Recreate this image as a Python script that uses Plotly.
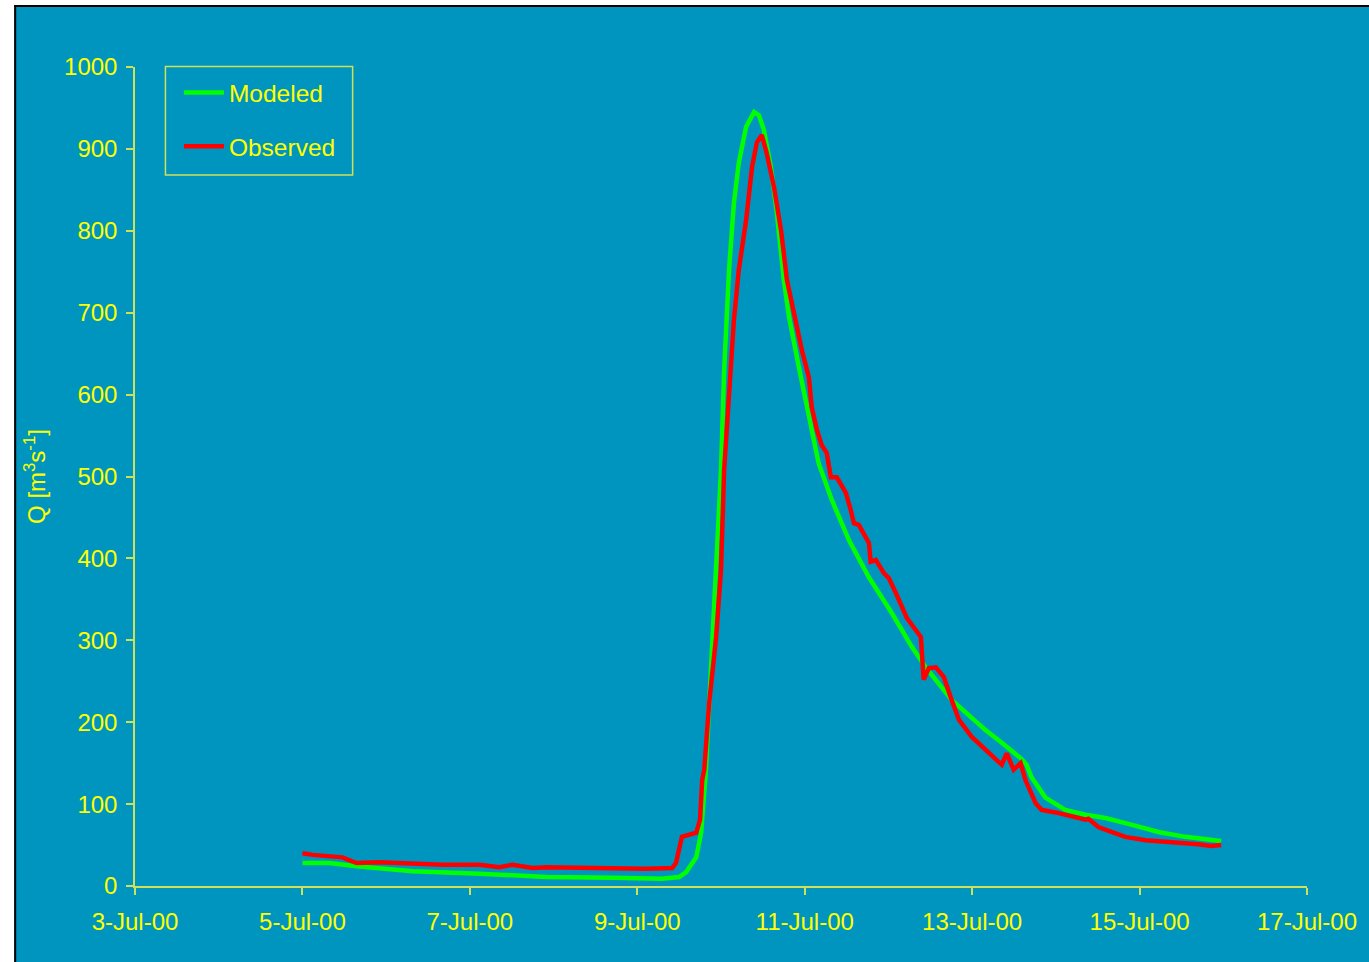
import pandas as pd
import plotly.graph_objects as go

# Hours since 5-Jul-2000 00:00 and discharge (m3/s)
modeled_hours = [0, 7.8, 15.5, 24, 31.6, 50.7, 69.9, 88.8, 103.1, 108, 110, 112.9, 114.3, 115.1, 115.7,
                 117.1, 118.6, 120, 120.9, 122.3, 123.7, 125.1, 127.2, 129.5, 130.9, 132.3, 134.3, 136,
                 138, 139.5, 142.3, 145.2, 148, 151.8, 156.7, 162.4, 169, 174.7, 178.7, 186.2, 195.9,
                 200.5, 206.2, 207.6, 209, 213, 218.7, 224.5, 230.2, 237.6, 245.4, 253.1, 263.4]
modeled_q = [28, 28, 24, 21, 18, 15, 11, 10, 9, 11, 17, 35, 65, 109, 142,
             264, 386, 508, 630, 752, 834, 883, 927, 945, 941, 923, 878, 822,
             740, 695, 634, 573, 516, 471, 422, 377, 333, 292, 267, 227, 190,
             175, 155, 148, 133, 108, 93, 87, 83, 75, 66, 60, 55]

observed_hours = [0, 3, 11.5, 15.5, 22, 36.4, 40.2, 50.7, 56.5, 60.2, 66, 69.9, 79.4, 88.8, 98.5, 106,
                  107.1, 108.8, 112.9, 114, 114.6, 115.2, 116.6, 118.6, 120, 120.9, 122.3, 123.7, 125.1,
                  127.2, 128.9, 130.3, 131.7, 133.1, 135.2, 137.2, 138.9, 139.5, 141.5, 143.2, 145.2,
                  146, 147.5, 148.9, 150.3, 151.5, 153.2, 155.8, 157.2, 158.1, 159.5, 160.9, 162.4,
                  162.9, 164.4, 166.7, 168.1, 170.1, 171.8, 173.3, 174.7, 175.8, 177.3, 178.1, 179.6,
                  181.6, 183.9, 185.8, 188.2, 191.9, 196.8, 200.5, 201.9, 203.9, 205.9, 207.3, 210.2,
                  211.9, 216.8, 224.5, 225.3, 228.2, 231.9, 235.9, 241.7, 249.1, 256.8, 260.5, 263.4]
observed_q = [40, 38, 35, 28, 29, 27, 26, 26, 23, 26, 22, 23, 22, 22, 21, 22,
              28, 60, 65, 81, 129, 142, 223, 304, 386, 508, 590, 691, 752,
              813, 878, 908, 917, 895, 853, 801, 740, 728, 683, 654, 621,
              585, 557, 538, 529, 499, 499, 480, 459, 443, 441, 431, 419,
              396, 398, 382, 376, 358, 341, 327, 319, 313, 304, 252, 266,
              267, 255, 231, 203, 182, 162, 148, 162, 142, 150, 129, 101,
              93, 89, 81, 82, 72, 66, 60, 56, 54, 51, 49, 50]

start = pd.Timestamp("2000-07-05 00:00")
x_mod = start + pd.to_timedelta(modeled_hours, unit="h")
x_obs = start + pd.to_timedelta(observed_hours, unit="h")

BG = "#0095BF"
AXIS = "#CFE05A"
YEL = "#FFFF00"
FONT = "Liberation Sans, Arial, sans-serif"

fig = go.Figure()
fig.add_trace(go.Scatter(x=x_mod, y=modeled_q, mode="lines", name="Modeled",
                         line=dict(color="#00FF00", width=4.5), legendgroup="a"))
fig.add_trace(go.Scatter(x=x_obs, y=observed_q, mode="lines", name="Observed",
                         line=dict(color="#FF0000", width=4.5), legendgroup="b"))

W, H = 1369, 962
L, R, T, B = 135, 1369 - 1309, 67, 962 - 886
pw, ph = W - L - R, H - T - B

def px(xp):
    return (xp - L) / pw

def py(yp):
    return (H - B - yp) / ph

shapes = [
    dict(type="rect", xref="paper", yref="paper", x0=px(-5), x1=px(14), y0=py(1000), y1=py(-5),
         fillcolor="white", line=dict(width=0), layer="below"),
    dict(type="rect", xref="paper", yref="paper", x0=px(-5), x1=px(1400), y0=py(5), y1=py(-5),
         fillcolor="white", line=dict(width=0), layer="below"),
    dict(type="line", xref="paper", yref="paper", x0=px(15), x1=px(15), y0=py(5), y1=py(1000),
         line=dict(color="black", width=2)),
    dict(type="line", xref="paper", yref="paper", x0=px(14), x1=px(1400), y0=py(6), y1=py(6),
         line=dict(color="black", width=2)),
    # legend frame
    dict(type="rect", xref="paper", yref="paper", x0=px(165.5), x1=px(353), y0=py(66.5), y1=py(175),
         line=dict(color=AXIS, width=1.5), fillcolor="rgba(0,0,0,0)"),
]

fig.update_layout(
    width=W, height=H,
    margin=dict(l=L, r=R, t=T, b=B),
    paper_bgcolor=BG, plot_bgcolor=BG,
    font=dict(family=FONT, size=24, color=YEL),
    shapes=shapes,
    showlegend=True,
    legend=dict(x=px(179), y=py(70), xanchor="left", yanchor="top",
                bgcolor="rgba(0,0,0,0)", borderwidth=0,
                font=dict(family=FONT, size=24.5, color=YEL),
                tracegroupgap=19, traceorder="grouped", itemwidth=40),
    xaxis=dict(
        type="date",
        range=["2000-07-03", "2000-07-17"],
        tickvals=pd.date_range("2000-07-03", "2000-07-17", freq="2D"),
        tickformat="%-d-%b-%y",
        showgrid=False, zeroline=False,
        showline=True, linecolor=AXIS, linewidth=1.5,
        ticks="outside", ticklen=7, tickcolor=AXIS, tickwidth=1.5,
        tickfont=dict(family=FONT, size=24, color=YEL),
        ticklabelstandoff=6,
    ),
    yaxis=dict(
        range=[0, 1000], tickvals=list(range(0, 1001, 100)),
        showgrid=False, zeroline=False,
        showline=True, linecolor=AXIS, linewidth=1.5,
        ticks="outside", ticklen=7, tickcolor=AXIS, tickwidth=1.5,
        tickfont=dict(family=FONT, size=24, color=YEL),
        ticklabelstandoff=4,
        title=dict(text="Q [m<sup>3</sup>s<sup>-1</sup>]", standoff=12,
                   font=dict(family=FONT, size=24, color=YEL)),
    ),
)

fig.write_html("out.html", config={"displayModeBar": False},
               post_script="document.body.style.margin='0px';document.body.style.overflow='hidden';")
